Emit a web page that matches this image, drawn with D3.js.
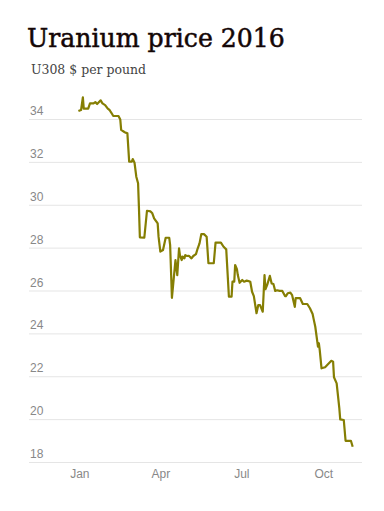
<!DOCTYPE html>
<html>
<head>
<meta charset="utf-8">
<script src="https://cdn.jsdelivr.net/npm/d3@7"></script>
<style>
  body { margin: 0; background: #fff; }
  svg { display: block; }
</style>
</head>
<body>
<div id="chart"></div>
<script>
var svgWidth = 384;
var svgHeight = 511;

// price data
var dates = [
  "2015-12-31", "2016-01-03", "2016-01-05", "2016-01-06", "2016-01-11", "2016-01-13",
  "2016-01-17", "2016-01-19", "2016-01-21", "2016-01-25", "2016-01-27", "2016-01-30",
  "2016-02-02", "2016-02-04", "2016-02-06", "2016-02-08", "2016-02-14", "2016-02-16",
  "2016-02-17", "2016-02-21", "2016-02-24", "2016-02-26", "2016-02-29", "2016-03-01",
  "2016-03-03", "2016-03-05", "2016-03-07", "2016-03-08", "2016-03-09", "2016-03-14",
  "2016-03-17", "2016-03-21", "2016-03-23", "2016-03-25", "2016-03-29", "2016-03-30",
  "2016-04-01", "2016-04-04", "2016-04-07", "2016-04-11", "2016-04-12", "2016-04-14",
  "2016-04-18", "2016-04-20", "2016-04-22", "2016-04-23", "2016-04-25", "2016-04-26",
  "2016-04-28", "2016-04-29", "2016-05-01", "2016-05-03", "2016-05-06", "2016-05-08",
  "2016-05-11", "2016-05-13", "2016-05-15", "2016-05-17", "2016-05-20", "2016-05-23",
  "2016-05-25", "2016-05-31", "2016-06-02", "2016-06-08", "2016-06-11", "2016-06-14",
  "2016-06-17", "2016-06-20", "2016-06-21", "2016-06-23", "2016-06-24", "2016-06-26",
  "2016-06-27", "2016-06-29", "2016-07-02", "2016-07-04", "2016-07-07", "2016-07-09",
  "2016-07-11", "2016-07-13", "2016-07-15", "2016-07-18", "2016-07-20", "2016-07-22",
  "2016-07-25", "2016-07-27", "2016-07-28", "2016-07-30", "2016-08-02", "2016-08-04",
  "2016-08-06", "2016-08-08", "2016-08-10", "2016-08-13", "2016-08-16", "2016-08-19",
  "2016-08-20", "2016-08-22", "2016-08-25", "2016-08-27", "2016-08-30", "2016-08-31",
  "2016-09-05", "2016-09-08", "2016-09-13", "2016-09-16", "2016-09-19", "2016-09-20",
  "2016-09-22", "2016-09-25", "2016-09-26", "2016-09-27", "2016-09-29", "2016-10-03",
  "2016-10-10", "2016-10-12", "2016-10-13", "2016-10-16", "2016-10-19", "2016-10-20",
  "2016-10-24", "2016-10-26", "2016-11-01", "2016-11-03"
];
var prices = [
  34.37, 34.42, 35.01, 34.48, 34.48, 34.73,
  34.73, 34.79, 34.70, 34.87, 34.73, 34.65,
  34.48, 34.42, 34.29, 34.15, 34.14, 33.98,
  33.49, 33.38, 33.33, 32.01, 32.01, 32.13,
  31.96, 31.31, 31.00, 29.83, 28.48, 28.46,
  29.72, 29.69, 29.60, 29.37, 29.13, 28.51,
  27.81, 27.89, 28.46, 28.46, 28.12, 25.66,
  27.42, 26.72, 27.97, 27.65, 27.42, 27.58,
  27.50, 27.65, 27.61, 27.62, 27.50, 27.61,
  27.70, 27.97, 28.20, 28.63, 28.63, 28.51,
  27.27, 27.27, 28.23, 28.23, 28.04, 27.92,
  25.71, 25.71, 26.41, 26.41, 27.19, 26.99,
  26.72, 26.36, 26.49, 26.41, 26.46, 26.44,
  26.41, 25.94, 25.74, 24.94, 25.32, 25.32,
  25.01, 26.72, 26.06, 26.26, 26.68, 26.33,
  26.30, 25.98, 26.01, 25.98, 25.98, 25.74,
  25.74, 25.87, 25.90, 25.78, 25.24, 25.64,
  25.64, 25.37, 25.37, 25.17, 24.90, 24.70,
  24.31, 23.38, 23.54, 23.22, 22.37, 22.42,
  22.72, 22.68, 21.95, 21.67, 20.50, 19.99,
  19.96, 18.99, 18.99, 18.71
];
var yTicks = [18, 20, 22, 24, 26, 28, 30, 32, 34];
var xTicks = ["2016-01-01", "2016-04-01", "2016-07-01", "2016-10-01"];

var parseDate = d3.timeParse("%Y-%m-%d");
var priceData = dates.map(function(d, i) {
  return { date: parseDate(d), price: prices[i] };
});

var gridLeft = 29;
var gridRight = 362;

var svg = d3.select("#chart")
  .append("svg")
  .attr("width", svgWidth)
  .attr("height", svgHeight);

// scales
var xScale = d3.scaleTime()
  .domain([parseDate("2016-01-01"), parseDate("2016-10-01")])
  .range([79.3, 323.3]);

var yScale = d3.scaleLinear()
  .domain([18, 34])
  .range([462, 119]);

// title + subtitle
var title = svg.append("text")
  .attr("x", 27)
  .attr("y", 47)
  .attr("fill", "#140606")
  .attr("stroke", "#140606")
  .attr("stroke-width", 0.5)
  .style("font-family", "'DejaVu Serif', serif")
  .style("font-size", "28px")
  .text("Uranium price 2016");
var tw = title.node().getComputedTextLength();
title.style("font-size", (28 * 258 / tw) + "px");

var sub = svg.append("text")
  .attr("x", 31)
  .attr("y", 74)
  .attr("fill", "#444")
  .style("font-family", "'DejaVu Serif', serif")
  .style("font-size", "14px")
  .text("U308 $ per pound");
var sw = sub.node().getComputedTextLength();
sub.style("font-size", (14 * 115 / sw) + "px");

// y axis with gridlines
var yAxis = svg.append("g")
  .attr("transform", `translate(${gridLeft}, 0)`)
  .call(d3.axisRight(yScale).tickValues(yTicks).tickSize(gridRight - gridLeft));

yAxis.select(".domain").remove();
yAxis.selectAll(".tick line")
  .attr("stroke", "#e5e5e5")
  .attr("stroke-width", 1);
yAxis.selectAll(".tick text")
  .attr("x", 1)
  .attr("dy", "-4.5")
  .attr("fill", "#888")
  .style("font-family", "'Liberation Sans', Arial, sans-serif")
  .style("font-size", "12px");

// x axis
var xAxis = svg.append("g")
  .attr("transform", "translate(0, 462)")
  .call(d3.axisBottom(xScale)
    .tickValues(xTicks.map(parseDate))
    .tickFormat(d3.timeFormat("%b"))
    .tickSize(0));

xAxis.select(".domain").remove();
xAxis.selectAll(".tick text")
  .attr("y", 16)
  .attr("dy", 0)
  .attr("fill", "#888")
  .style("font-family", "'Liberation Sans', Arial, sans-serif")
  .style("font-size", "12px");

// the price line
var line = d3.line()
  .x(d => xScale(d.date))
  .y(d => yScale(d.price));

svg.append("path")
  .datum(priceData)
  .attr("d", line)
  .attr("fill", "none")
  .attr("stroke", "#857e03")
  .attr("stroke-width", 2.2)
  .attr("stroke-linejoin", "round");
</script>
</body>
</html>
